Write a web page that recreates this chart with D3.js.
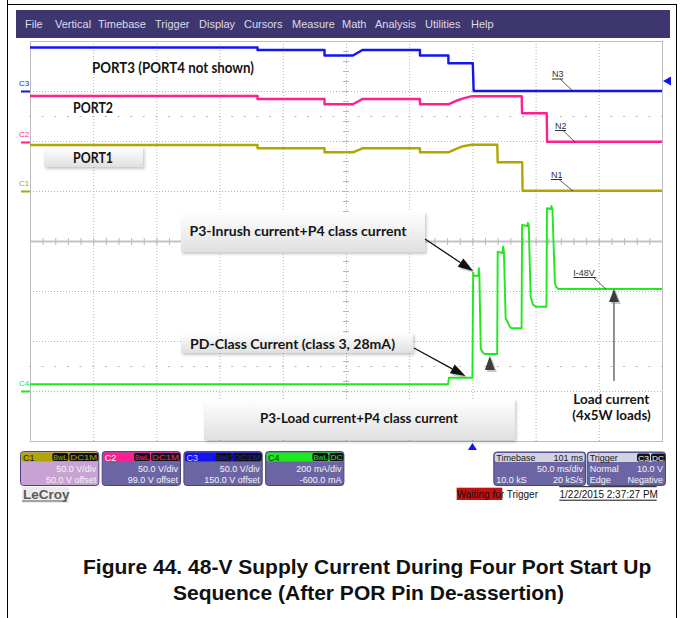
<!DOCTYPE html>
<html>
<head>
<meta charset="utf-8">
<script src="https://cdn.jsdelivr.net/npm/d3@7"></script>
<style>
  body { margin: 0; background: #fff; }
  svg { display: block; }
  .ui { font-family: "Liberation Sans", Arial, sans-serif; }
  .note { font-family: Lato, "Open Sans", sans-serif; font-weight: bold; fill: #151515; }
</style>
</head>
<body>
<svg id="chart" width="681" height="618"></svg>
<script>
const menuItems = ['File', 'Vertical', 'Timebase', 'Trigger', 'Display', 'Cursors', 'Measure', 'Math', 'Analysis', 'Utilities', 'Help'];
const menuX = [25, 55, 98, 155, 199, 244, 292, 342, 375, 425, 471];

// time in ms, trigger at 0 (50 ms/div, 10 div)
const timeDomain = [-350, 150];
const msPerDiv = 50;

const channelNames = ['C1', 'C2', 'C3', 'C4'];
const channelColors = ['#b0a600', '#ff1f8e', '#1414f0', '#1ee81e'];
const voltsPerDiv = [50, 50, 50, 200];     // C4 in mA/div
const offsets = [50, 99, 150, -600];       // C4 in mA

// C3 - PORT3 voltage (V)
const c3Time = [-350, -170, -170, -117, -117, -94.5, -87, -41.5, -41.5, -19, -19, 0.3, 1, 150];
const c3Volts = [43.5, 43.5, 41, 41, 35.5, 35.5, 41, 41, 35.5, 35.5, 27.7, 27.7, 0, 0];

// C2 - PORT2 voltage (V)
const c2Time = [-350, -170, -170, -117, -117, -94.5, -87, -41.5, -41.5, -19, -12.4, -7.2, -1.9, 0, 39, 39.3, 58.8, 59.1, 150];
const c2Volts = [46, 46, 43, 43, 37.7, 37.7, 43, 43, 37.7, 37.7, 41.3, 43.7, 45.3, 45.8, 45.8, 28.7, 28.7, 0.3, 0.3];

// C1 - PORT1 voltage (V)
const c1Time = [-350, -170, -170, -117, -117, -94.5, -87, -41.5, -41.5, -19, -12.4, -7.2, -1.9, 0, 19.7, 20, 39.4, 39.7, 150];
const c1Volts = [46, 46, 42.7, 42.7, 38.7, 38.7, 42.7, 42.7, 38.7, 38.7, 42.3, 44.8, 46, 46.3, 46.3, 28.7, 28.7, 0.3, 0.3];

// C4 - 48 V supply current (mA)
const c4Time = [-350, -19.2, -18.6, 0, 0.6, 1.2, 4.8, 5.1, 5.5, 6.6, 8.5, 10, 19.6, 20, 23.8, 24.2, 24.9, 26.3, 29.7, 31, 38.9, 39.3, 43.6, 43.9, 44.6, 46.1, 48, 50.3, 58.6, 59, 62.2, 62.5, 63.3, 65.3, 66.5, 68, 150];
const c4Ma = [27, 27, 53, 53, 472, 461, 461, 491, 470, 170, 152, 148, 148, 557, 552, 577, 560, 292, 257, 251, 251, 664, 660, 673, 660, 377, 345, 337, 337, 731, 728, 740, 725, 431, 415, 408, 408];

const scaleLabels = ['50.0 V/div', '50.0 V/div', '50.0 V/div', '200 mA/div'];
const offsetLabels = ['50.0 V offset', '99.0 V offset', '150.0 V offset', '-600.0 mA'];
const couplingLabels = ['DC1M', 'DC1M', 'DC1M', 'DC'];

const timebaseRows = [['Timebase', '101 ms'], ['', '50.0 ms/div'], ['10.0 kS', '20 kS/s']];
const triggerRows = [['Trigger', ''], ['Normal', '10.0 V'], ['Edge', 'Negative']];

const titleLines = ['Figure 44. 48-V Supply Current During Four Port Start Up', 'Sequence (After POR Pin De-assertion)'];

// ---- scales ----
const plot = { left: 30, right: 662, top: 41, bottom: 441 };
const x = d3.scaleLinear().domain(timeDomain).range([plot.left, plot.right]);
const yDiv = d3.scaleLinear().domain([-4, 4]).range([plot.bottom, plot.top]);
const yChan = i => v => yDiv((v + offsets[i]) / voltsPerDiv[i]);

const svg = d3.select('#chart');
const defs = svg.append('defs');
const grad = defs.append('linearGradient').attr('id', 'noteFill')
    .attr('x1', 0).attr('y1', 0).attr('x2', 0).attr('y2', 1);
grad.append('stop').attr('offset', '0%').attr('stop-color', '#ffffff');
grad.append('stop').attr('offset', '100%').attr('stop-color', '#e0e0e0');
defs.append('filter').attr('id', 'shadow')
    .attr('x', '-10%').attr('y', '-20%').attr('width', '125%').attr('height', '150%')
    .append('feDropShadow').attr('dx', 1.5).attr('dy', 2).attr('stdDeviation', 1.5)
    .attr('flood-color', '#000').attr('flood-opacity', 0.22);

// page frame
svg.append('line').attr('x1', 7.5).attr('x2', 7.5).attr('y1', 0).attr('y2', 618).attr('stroke', '#000');
svg.append('line').attr('x1', 676.5).attr('x2', 676.5).attr('y1', 4).attr('y2', 618).attr('stroke', '#000');
svg.append('line').attr('x1', 7).attr('x2', 677).attr('y1', 4.5).attr('y2', 4.5).attr('stroke', '#000');

// menu bar
svg.append('rect').attr('x', 16).attr('y', 10).attr('width', 654).attr('height', 28).attr('fill', '#3e366e');
svg.append('g').attr('class', 'ui').selectAll('text').data(menuItems).enter().append('text')
    .attr('x', (d, i) => menuX[i]).attr('y', 28)
    .attr('font-size', 11).attr('fill', '#dcdcec')
    .text(d => d);

// graticule
const grid = svg.append('g');
const xLines = d3.range(timeDomain[0], timeDomain[1] + 1, msPerDiv);
const yLines = d3.range(-4, 5);
grid.selectAll('.vgrid').data(xLines).enter().append('line')
    .attr('x1', d => x(d) + 0.5).attr('x2', d => x(d) + 0.5)
    .attr('y1', plot.top).attr('y2', plot.bottom)
    .attr('stroke', '#b4b4b4').attr('stroke-dasharray', '1,2');
grid.selectAll('.hgrid').data(yLines).enter().append('line')
    .attr('x1', plot.left).attr('x2', plot.right)
    .attr('y1', d => yDiv(d) + 0.5).attr('y2', d => yDiv(d) + 0.5)
    .attr('stroke', '#b4b4b4').attr('stroke-dasharray', '1,2');
grid.append('line').attr('x1', plot.left).attr('x2', plot.right)
    .attr('y1', yDiv(0) + 0.5).attr('y2', yDiv(0) + 0.5)
    .attr('stroke', '#c4c4c4').attr('stroke-width', 2);
const minorX = d3.range(timeDomain[0], timeDomain[1] + 1, msPerDiv / 5);
grid.selectAll('.cx').data(minorX).enter().append('line')
    .attr('x1', d => x(d) + 0.5).attr('x2', d => x(d) + 0.5)
    .attr('y1', yDiv(0) - 3).attr('y2', yDiv(0) + 4)
    .attr('stroke', '#b8b8b8');
[2.5, -2.5].forEach(r => {
    grid.selectAll(null).data(minorX).enter().append('line')
        .attr('x1', d => x(d) - 1).attr('x2', d => x(d) + 1)
        .attr('y1', yDiv(r) + 0.5).attr('y2', yDiv(r) + 0.5)
        .attr('stroke', '#b8b8b8');
});
grid.selectAll('.cy').data(d3.range(-4, 4.01, 0.2)).enter().append('line')
    .attr('x1', x(-100) - 3).attr('x2', x(-100) + 3)
    .attr('y1', d => yDiv(d) + 0.5).attr('y2', d => yDiv(d) + 0.5)
    .attr('stroke', '#b8b8b8');
grid.append('rect').attr('x', plot.left + 0.5).attr('y', plot.top + 0.5)
    .attr('width', plot.right - plot.left).attr('height', plot.bottom - plot.top)
    .attr('fill', 'none').attr('stroke', '#bdbdbd');

// traces
const traces = [
    { ch: 2, t: c3Time, v: c3Volts, w: 2.4 },
    { ch: 1, t: c2Time, v: c2Volts, w: 2.4 },
    { ch: 0, t: c1Time, v: c1Volts, w: 2.4 },
    { ch: 3, t: c4Time, v: c4Ma, w: 1.9 }
];
traces.forEach(tr => {
    const yc = yChan(tr.ch);
    const line = d3.line().x(d => x(d[0])).y(d => yc(d[1]));
    svg.append('path').datum(d3.zip(tr.t, tr.v))
        .attr('d', line).attr('fill', 'none')
        .attr('stroke', channelColors[tr.ch]).attr('stroke-width', tr.w)
        .attr('stroke-linejoin', 'round');
});

// ground markers on the left
const markers = svg.append('g').attr('class', 'ui');
channelNames.forEach((name, i) => {
    const gy = yChan(i)(0);
    markers.append('text').attr('x', 19).attr('y', gy - 5).attr('font-size', 8)
        .attr('fill', channelColors[i]).text(name);
    markers.append('line').attr('x1', 21).attr('x2', plot.left).attr('y1', gy + 0.5).attr('y2', gy + 0.5)
        .attr('stroke', channelColors[i]).attr('stroke-width', 2);
});

// trigger level and trigger time markers
const trigY = yChan(2)(10);
svg.append('path').attr('d', `M663,${trigY} L671,${trigY - 4.5} L671,${trigY + 4.5} Z`).attr('fill', '#1414f0');
const trigX = x(0);
svg.append('path').attr('d', `M${trigX},${plot.bottom + 2} L${trigX - 4.5},${plot.bottom + 9} L${trigX + 4.5},${plot.bottom + 9} Z`).attr('fill', '#1414f0');

// annotation boxes
const notes = svg.append('g');
const box = (x0, y0, w, h) => notes.append('rect').attr('x', x0).attr('y', y0).attr('width', w).attr('height', h)
    .attr('fill', 'url(#noteFill)').attr('filter', 'url(#shadow)');
box(44, 147, 99, 20);
box(181, 212, 244, 40);
box(181, 333, 232, 20);
box(204, 399, 311, 41);

const note = (txt, x0, cy, w, size) => notes.append('text').attr('class', 'note')
    .attr('x', x0).attr('y', cy + size * 0.36).attr('font-size', size)
    .attr('textLength', w).attr('lengthAdjust', 'spacingAndGlyphs').text(txt);
note('PORT3 (PORT4 not shown)', 92, 67.5, 162, 14.5);
note('PORT2', 73, 108, 40, 14.5);
note('PORT1', 73, 157.7, 40, 14.5);
note('P3-Inrush current+P4 class current', 189.5, 230.7, 217, 14);
note('PD-Class Current (class 3, 28mA)', 190, 344, 205, 14);
note('P3-Load current+P4 class current', 260, 418.3, 198, 14);
note('Load current', 573.3, 399, 76, 14);
note('(4x5W loads)', 572.3, 415, 78.5, 14);

// arrows
const arrow = (from, tip, len, wid, fill, lineColor) => {
    const dx = tip[0] - from[0], dy = tip[1] - from[1];
    const d = Math.hypot(dx, dy), ux = dx / d, uy = dy / d;
    const bx = tip[0] - ux * len, by = tip[1] - uy * len;
    const px = -uy * wid / 2, py = ux * wid / 2;
    const pts = [[tip[0], tip[1]], [bx + px, by + py], [bx - px, by - py]];
    if (lineColor) {
        notes.append('line').attr('x1', from[0]).attr('y1', from[1]).attr('x2', bx).attr('y2', by)
            .attr('stroke', lineColor).attr('stroke-width', 1.3);
    }
    notes.append('polygon').attr('points', pts.map(p => [p[0] + 2, p[1] + 2]).join(' '))
        .attr('fill', '#888').attr('opacity', 0.45);
    notes.append('polygon').attr('points', pts.join(' ')).attr('fill', fill);
};
const y4 = yChan(3);
arrow([425, 239], [x(0.5), y4(480)], 15, 10, '#111', '#111');
arrow([414, 348], [x(-5.5), y4(60)], 15, 10, '#111', '#111');
arrow([x(13.8), 372], [x(13.8), y4(140)], 14, 10, '#3c3c3c', null);
arrow([x(112), 381], [x(112), y4(408)], 13, 10, '#3c3c3c', '#555');

// trace labels with leaders
const labels = svg.append('g').attr('class', 'ui');
const tag = (txt, x0, base, w, tip) => {
    labels.append('text').attr('x', x0).attr('y', base).attr('font-size', 9).attr('fill', '#333').text(txt);
    labels.append('line').attr('x1', x0).attr('x2', x0 + w).attr('y1', base + 2).attr('y2', base + 2)
        .attr('stroke', '#333');
    labels.append('line').attr('x1', x0 + w - 3).attr('y1', base + 2).attr('x2', tip[0]).attr('y2', tip[1])
        .attr('stroke', '#333').attr('stroke-width', 0.8);
};
tag('N3', 552, 77, 11, [x(79.6), yChan(2)(0)]);
tag('N2', 555, 128.5, 11, [x(81.2), yChan(1)(0)]);
tag('N1', 551, 177.5, 11, [x(79.6), yChan(0)(0)]);
tag('I-48V', 573.3, 275.5, 23, [x(105.7), y4(408)]);

// channel info panels
const panels = svg.append('g').attr('class', 'ui');
const headerText = ['#1a1a1a', '#ffffff', '#c8c8ff', '#1a1a1a'];
const bodyColors = ['#c8a2d2', '#6c65a4', '#6c65a4', '#6c65a4'];
const badge = (right, y0, w, txt, color) => {
    panels.append('rect').attr('x', right - w).attr('y', y0).attr('width', w).attr('height', 8)
        .attr('rx', 2).attr('fill', '#111');
    panels.append('text').attr('x', right - w / 2).attr('y', y0 + 7).attr('text-anchor', 'middle')
        .attr('font-size', 7.5).attr('fill', color).attr('textLength', w - 2)
        .attr('lengthAdjust', 'spacingAndGlyphs').text(txt);
};
channelNames.forEach((name, i) => {
    const px = 20 + i * 81.7, pw = 78.3, py = 451, ph = 34;
    panels.append('rect').attr('x', px + 0.5).attr('y', py + 0.5).attr('width', pw).attr('height', ph)
        .attr('rx', 3).attr('fill', bodyColors[i]).attr('stroke', '#4a4480');
    panels.append('rect').attr('x', px + 1.5).attr('y', py + 1.5).attr('width', pw - 2).attr('height', 9)
        .attr('rx', 2).attr('fill', channelColors[i]);
    panels.append('text').attr('x', px + 3).attr('y', py + 9.5).attr('font-size', 9)
        .attr('fill', headerText[i]).text(name);
    const cw = couplingLabels[i] === 'DC' ? 14 : 29;
    badge(px + pw, py + 2, cw, couplingLabels[i], channelColors[i]);
    badge(px + pw - cw - 1, py + 2, 16, 'BwL', channelColors[i]);
    panels.append('text').attr('x', px + pw - 2).attr('y', py + 20.5).attr('text-anchor', 'end')
        .attr('font-size', 9).attr('fill', '#f4f4f4').text(scaleLabels[i]);
    panels.append('text').attr('x', px + pw - 2).attr('y', py + 32).attr('text-anchor', 'end')
        .attr('font-size', 9).attr('fill', '#f4f4f4').text(offsetLabels[i]);
});

const infoPanel = (px, pw, rows, badges) => {
    const py = 451.5, ph = 33.5;
    panels.append('rect').attr('x', px + 0.5).attr('y', py + 0.5).attr('width', pw).attr('height', ph)
        .attr('rx', 3).attr('fill', '#6c65a4').attr('stroke', '#4a4480');
    panels.append('rect').attr('x', px + 1.5).attr('y', py + 1.5).attr('width', pw - 2).attr('height', 9)
        .attr('rx', 2).attr('fill', '#d2d2e2');
    rows.forEach((r, k) => {
        const ry = k === 0 ? py + 9.5 : py + 9.5 + k * 11.2;
        const fill = k === 0 ? '#1a1a1a' : '#f4f4f4';
        panels.append('text').attr('x', px + 3).attr('y', ry).attr('font-size', 9).attr('fill', fill).text(r[0]);
        panels.append('text').attr('x', px + pw - 2).attr('y', ry).attr('text-anchor', 'end')
            .attr('font-size', 9).attr('fill', fill).text(r[1]);
    });
    let right = px + pw;
    badges.forEach(b => { badge(right, py + 2, b[1], b[0], b[2]); right -= b[1] + 1; });
};
infoPanel(493.3, 91.7, timebaseRows, []);
infoPanel(586.7, 78.3, triggerRows, [['DC', 14, '#ffffff'], ['C3', 13, '#ffffff']]);

// status line
panels.append('rect').attr('x', 456.7).attr('y', 487.7).attr('width', 45.6).attr('height', 12.3).attr('fill', '#c41010');
panels.append('text').attr('x', 456.7).attr('y', 497.6).attr('font-size', 10).attr('fill', '#111').text('Waiting for Trigger');
panels.append('text').attr('x', 559.5).attr('y', 497.6).attr('font-size', 10).attr('fill', '#111').text('1/22/2015 2:37:27 PM');
panels.append('line').attr('x1', 559.3).attr('x2', 656.7).attr('y1', 486.7).attr('y2', 486.7).attr('stroke', '#111');
panels.append('line').attr('x1', 559.3).attr('x2', 656.7).attr('y1', 500.2).attr('y2', 500.2).attr('stroke', '#111');
panels.append('rect').attr('x', 22).attr('y', 487).attr('width', 47).attr('height', 16).attr('fill', '#ececec');
panels.append('text').attr('x', 23).attr('y', 499).attr('font-size', 13.5).attr('fill', '#5a5a5a')
    .attr('font-weight', 'bold').text('LeCroy');
panels.append('line').attr('x1', 22).attr('x2', 67).attr('y1', 501).attr('y2', 501).attr('stroke', '#5a5a5a');

// figure caption
svg.append('g').attr('class', 'ui').selectAll('text').data(titleLines).enter().append('text')
    .attr('x', (d, i) => i === 0 ? 83 : 173).attr('y', (d, i) => i === 0 ? 573.5 : 600)
    .attr('font-size', 21).attr('font-weight', 'bold').attr('fill', '#111')
    .text(d => d);
</script>
</body>
</html>
